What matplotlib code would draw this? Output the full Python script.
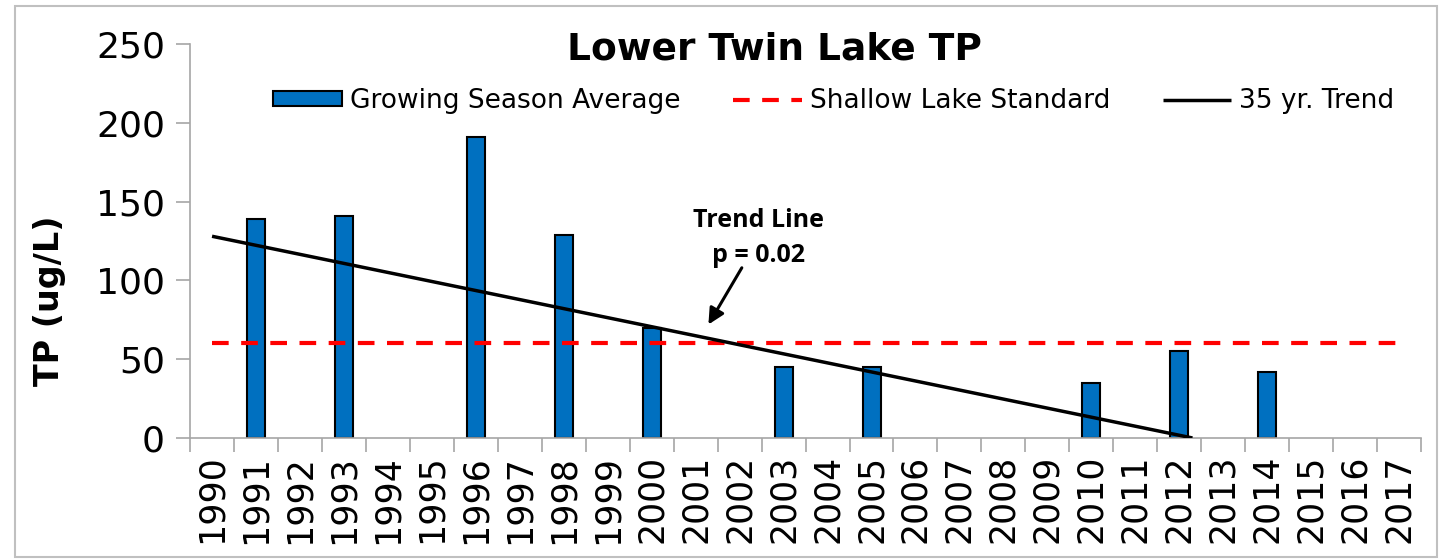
import matplotlib
matplotlib.use("Agg")
import matplotlib.pyplot as plt
from matplotlib.patches import Rectangle

years = list(range(1990, 2018))
sample_years = [1991, 1993, 1996, 1998, 2000, 2003, 2005, 2010, 2012, 2014]
tp_values = [139, 141, 191, 129, 70, 45, 45, 35, 55, 42]
standard_value = 60
trend_years = [1990, 2012.3]
trend_values = [128, 0]

BAR_COLOR = "#0070C0"
GRID_GRAY = "#a6a6a6"

plt.rcParams["font.family"] = ["DejaVu Sans"]

fig = plt.figure(figsize=(14.52, 5.6), dpi=100)
ax = fig.add_axes([0.1309, 0.2179, 0.8478, 0.7035])

idx = {y: i for i, y in enumerate(years)}
bar_x = [idx[y] for y in sample_years]
bars = ax.bar(bar_x, tp_values, width=0.41, color=BAR_COLOR, edgecolor="black",
              linewidth=1.5, label="Growing Season Average", zorder=2)
std_line, = ax.plot([0, len(years) - 1], [standard_value, standard_value], color="red",
                    linestyle=(0, (4, 3)), linewidth=3, label="Shallow Lake Standard", zorder=3)
trend_line, = ax.plot([t - years[0] for t in trend_years], trend_values, color="black",
                      linewidth=2.5, label="35 yr. Trend", zorder=4, solid_capstyle="butt")

ax.set_xlim(-0.5, len(years) - 0.5)
ax.set_ylim(0, 250)
ax.set_yticks(range(0, 251, 50))
ax.set_xticks(range(len(years)))
ax.set_xticklabels([str(y) for y in years], rotation=90, fontsize=25)
ax.set_xticks([i - 0.5 for i in range(len(years) + 1)], minor=True)
ax.tick_params(axis="x", which="major", length=0, pad=12)
ax.tick_params(axis="x", which="minor", length=10, color=GRID_GRAY, width=1.2)
ax.tick_params(axis="y", labelsize=26, length=10, color=GRID_GRAY, width=1.2, pad=8)

for side in ("top", "right"):
    ax.spines[side].set_visible(False)
for side in ("left", "bottom"):
    ax.spines[side].set_color(GRID_GRAY)
    ax.spines[side].set_linewidth(1.2)

# y label sits lower than the axes centre in the original
fig.text(50 / 1452, 1 - 301 / 560, "TP (ug/L)", rotation=90, ha="center", va="center",
         fontsize=24, fontweight="bold")
ax.text(0.475, 0.985, "Lower Twin Lake TP", transform=ax.transAxes, ha="center",
        va="center", fontsize=27, fontweight="bold")

ax.legend([bars, std_line, trend_line],
          ["Growing Season Average", "Shallow Lake Standard", "35 yr. Trend"],
          loc="center", bbox_to_anchor=(0.523, 0.855), ncol=3, frameon=False,
          fontsize=19, handlelength=2.6, handleheight=0.5, handletextpad=0.3,
          columnspacing=2.0)

ax.text(12.42, 127, "Trend Line\np = 0.02", ha="center", va="center", fontsize=18,
        fontweight="bold", family=["Open Sans", "DejaVu Sans"], linespacing=1.5)
ax.annotate("", xy=(11.29, 72), xytext=(12.05, 108),
            arrowprops=dict(arrowstyle="-|>", color="black", lw=2.2,
                            mutation_scale=24, shrinkA=0, shrinkB=0))

fig.patches.append(Rectangle((0.01, 0.005), 0.98, 0.985, transform=fig.transFigure,
                             fill=False, edgecolor="#c0c0c0", linewidth=1.5))

fig.savefig("out.png", dpi=100)
